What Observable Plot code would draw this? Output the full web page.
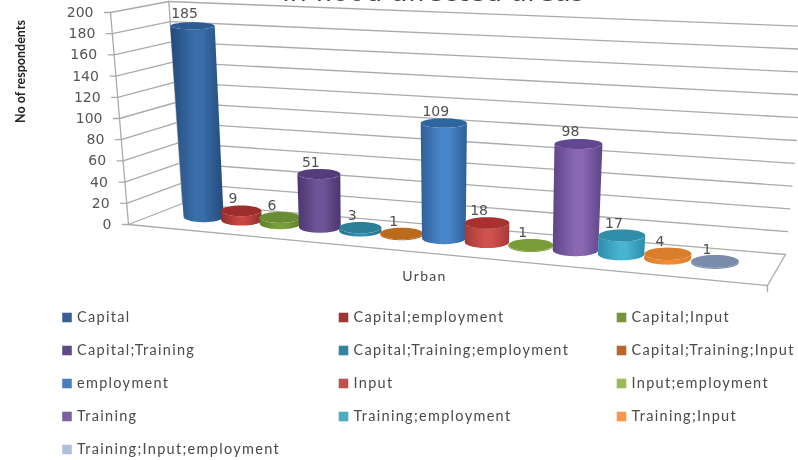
<!DOCTYPE html>
<html><head><meta charset="utf-8">
<style>html,body{margin:0;padding:0;background:#fff}svg{display:block;filter:blur(0.55px)}.wide text{letter-spacing:1.3px}</style>
<script src="https://cdn.jsdelivr.net/npm/d3@7"></script>
<script src="https://cdn.jsdelivr.net/npm/@observablehq/plot@0.6"></script>
</head><body><div id="chart"></div>
<script>
const categories = ["Capital","Capital;employment","Capital;Input","Capital;Training","Capital;Training;employment","Capital;Training;Input","employment","Input","Input;employment","Training","Training;employment","Training;Input","Training;Input;employment"];
const values = [185,9,6,51,3,1,109,18,1,98,17,4,1];
const swatchColors = ["#3a6093","#9d3634","#77933c","#5f4a83","#31859c","#b8672e","#4a7ebb","#c0504d","#9bbb59","#7d60a0","#4bacc6","#f79646","#b0bed9"];
const edgeColors = ["#234a7c","#8f2f2d","#5f7d2c","#4b3570","#236f85","#a85a1c","#2f5f98","#a53a38","#7d9c40","#5d4488","#2c8cab","#d97c28","#7385a6"];
const midColors  = ["#3a6ea8","#c9453f","#7ba23a","#6f5398","#2f93ad","#c9741f","#4a86cc","#d0524e","#86a83f","#8a68b4","#48b4d0","#f08c34","#8294b4"];
const topColors  = ["#2d5b92","#9e2e2b","#6a8c32","#553c7c","#2b7f97","#bb6a1c","#2e659f","#a8302e","#7a9c38","#614790","#2f8ea8","#d97f2c","#7a8cab"];
const yTicks = [0,20,40,60,80,100,120,140,160,180,200];
const xLabel = "Urban", yLabel = "No of respondents", title = "in flood affected areas";

// Oblique 3D view of the chart box: u along the floor, d into the depth, v the value
const corners = {fl:[128,224], bl:[182,203], br:[785,254], fr:[767,285]};
const leanAt = d3.scaleLinear([128,203,320,444,575,785],[-.09,-.06,-.02,0,.03,.108]);
const riseAt = d3.scaleLinear([128,203,320,444,575,785],[1.035,1.035,1.045,1.06,1.085,1.165]);
function project(u,d,v){
  const mix=(k)=>(1-u)*(1-d)*corners.fl[k]+u*(1-d)*corners.fr[k]+u*d*corners.br[k]+(1-u)*d*corners.bl[k];
  const x0=mix(0), y0=mix(1);
  return [x0+leanAt(x0)*v, y0-(riseAt(x0)+(.5-d)*.05)*v];
}
const slotU = i => (45+37.6*i+.43*i*i)/621;
const depth = .56;

function ellipse(cx,cy,rx,ry,a0,a1,n=36){
  return d3.range(n+1).map(k=>{const t=a0+(a1-a0)*k/n;return {x:cx+rx*Math.cos(t),y:cy+ry*Math.sin(t)};});
}
const marks = [];
const lineMark = (pts)=>Plot.line(pts,{x:"x",y:"y",stroke:"#aaaaaa",strokeWidth:1.3});
const seg = (a,b)=>[{x:a[0],y:a[1]},{x:b[0],y:b[1]}];

// walls and floor
for(const t of yTicks){
  marks.push(lineMark(seg(project(0,0,t),project(0,1,t))));
  if(t>0) marks.push(lineMark(seg(project(0,1,t),project(1,1,t))));
  const p=project(0,0,t);
  marks.push(lineMark(seg([p[0]-6,p[1]],p)));
}
marks.push(lineMark(seg(project(0,0,0),project(0,0,200))));
marks.push(lineMark(seg(project(0,1,0),project(0,1,200))));
marks.push(lineMark(seg(project(0,0,0),project(1,0,0))));
marks.push(lineMark(seg(project(1,0,0),project(1,1,0))));
marks.push(lineMark(seg(project(0,1,0),project(1,1,0))));
{const p=project(1,0,0);marks.push(lineMark(seg(p,[p[0],p[1]+6])));}

// cylinders
const labels=[];
values.forEach((v,i)=>{
  const base=project(slotU(i),depth,0), top=project(slotU(i),depth,v);
  const rb=20+.0075*(base[0]-203), rt=rb+v*.012;
  const ryb=.27*rb, ryt=(.27-v*.0006)*rt;
  const body=[...ellipse(top[0],top[1],rt,ryt,Math.PI,0,24),...ellipse(base[0],base[1],rb,ryb,0,Math.PI)];
  marks.push(Plot.line(body,{x:"x",y:"y",fill:`url(#g${i})`,stroke:"none"}));
  marks.push(Plot.line(ellipse(top[0],top[1],rt,ryt,0,2*Math.PI),{x:"x",y:"y",fill:topColors[i],stroke:"none"}));
  labels.push({x:top[0],y:top[1],v});
});
marks.push(Plot.text(labels,{x:"x",y:"y",text:"v",dx:-8,dy:-12,fontSize:14,fill:"#505050",fontFamily:"DejaVu Sans"}));

// value axis labels
marks.push(Plot.text(yTicks.map(t=>{const p=project(0,0,t);return {x:p[0],y:p[1],t};}),{x:"x",y:"y",text:"t",dx:-17,textAnchor:"end",fontSize:14,fill:"#555",fontFamily:"DejaVu Sans"}));
const plotFont="Lato";
marks.push(Plot.text([title],{x:()=>433,y:()=>-8,text:d=>d,fontSize:27,fill:"#444",fontFamily:"DejaVu Sans"}));
marks.push(Plot.text([yLabel],{x:()=>20,y:()=>71,text:d=>d,rotate:-90,fontSize:12.5,fontWeight:700,fill:"#222",fontFamily:"Lato"}));
marks.push(Plot.text([xLabel],{x:()=>424,y:()=>276,text:d=>d,fontSize:14,fill:"#4a4a4a",fontFamily:plotFont,className:"wide"}));

// legend: three columns, five rows
const legend=categories.map((c,i)=>({c,i,col:i%3,row:Math.floor(i/3),color:swatchColors[i]}));
const colX=d=>[66.5,343,621][d.col], rowY=d=>317+d.row*33;
marks.push(Plot.dot(legend,{x:colX,y:rowY,symbol:"square",r:5.4,fill:d=>d.color,stroke:"none"}));
marks.push(Plot.text(legend,{x:d=>colX(d)+10,y:rowY,text:"c",textAnchor:"start",fontSize:14.5,fill:"#4a4a4a",fontFamily:plotFont,className:"wide"}));

const plot=Plot.plot({width:798,height:460,margin:0,
  x:{domain:[0,798],range:[0,798],axis:null},
  y:{domain:[0,460],range:[0,460],axis:null},
  color:{type:"identity"},
  style:{background:"#fff",overflow:"hidden"},
  marks});
const NS="http://www.w3.org/2000/svg";
const defs=document.createElementNS(NS,"defs");
values.forEach((_,i)=>{
  const g=document.createElementNS(NS,"linearGradient");
  g.setAttribute("id",`g${i}`);
  [[0,edgeColors[i]],[.45,midColors[i]],[.6,midColors[i]],[1,edgeColors[i]]].forEach(([o,c])=>{
    const s=document.createElementNS(NS,"stop");s.setAttribute("offset",o);s.setAttribute("stop-color",c);g.appendChild(s);
  });
  defs.appendChild(g);
});
plot.insertBefore(defs,plot.firstChild);
document.getElementById("chart").appendChild(plot);
</script></body></html>
